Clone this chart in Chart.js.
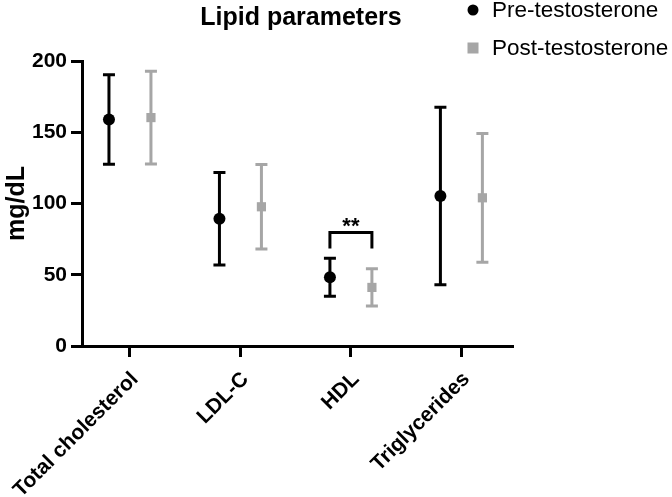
<!DOCTYPE html>
<html>
<head>
<meta charset="utf-8">
<title>Lipid parameters</title>
<script src="https://cdn.jsdelivr.net/npm/chart.js@4.4.0/dist/chart.umd.min.js"></script>
<style>
  html, body { margin: 0; padding: 0; background: #fff; }
  #chart-box { width: 672px; height: 497px; }
</style>
</head>
<body>
<div id="chart-box"><canvas id="my-chart"></canvas></div>
<script>
'use strict';

// *** Data ***

let categories = ['Total cholesterol', 'LDL-C', 'HDL', 'Triglycerides'];
let preMean = [159, 89.3, 48.2, 105.2];
let preSD = [31.4, 32.5, 13.3, 62.3];
let postMean = [160.3, 97.7, 41.1, 104.0];
let postSD = [32.5, 29.6, 13.1, 45.2];
let yTicks = [0, 50, 100, 150, 200];

// significance bracket over HDL
let sigCategory = 3;
let sigLabel = '**';
let sigTop = 79.7;
let sigLeg = 68.5;

// *** Styles ***

let fontFamily = '"Liberation Sans", Arial, sans-serif';
let preColor = '#000000';
let postColor = '#a6a6a6';
let shift = 0.19;

// *** Helpers ***

function makePoints(means, offset) {
  let points = [];
  for (let i = 0; i < means.length; i++) {
    points.push({ x: i + 1 + offset, y: means[i] });
  }
  return points;
}

// error bars drawn under the markers
let errorBarPlugin = {
  id: 'errorBars',
  beforeDatasetsDraw(chart) {
    let c = chart.ctx;
    let xs = chart.scales.x;
    let ys = chart.scales.y;
    chart.data.datasets.forEach(function (ds) {
      c.save();
      c.strokeStyle = ds.borderColor;
      c.lineWidth = 3;
      for (let i = 0; i < ds.data.length; i++) {
        let px = xs.getPixelForValue(ds.data[i].x);
        let top = ys.getPixelForValue(ds.data[i].y + ds.sd[i]);
        let bot = ys.getPixelForValue(ds.data[i].y - ds.sd[i]);
        c.beginPath();
        c.moveTo(px, top);
        c.lineTo(px, bot);
        c.moveTo(px - 6, top);
        c.lineTo(px + 6, top);
        c.moveTo(px - 6, bot);
        c.lineTo(px + 6, bot);
        c.stroke();
      }
      c.restore();
    });
  }
};

// title, legend and the ** bracket
let extrasPlugin = {
  id: 'extras',
  afterDraw(chart) {
    let c = chart.ctx;
    let xs = chart.scales.x;
    let ys = chart.scales.y;
    let area = chart.chartArea;
    c.save();

    // Title
    c.fillStyle = '#000';
    c.font = 'bold 25px ' + fontFamily;
    c.textAlign = 'center';
    c.textBaseline = 'alphabetic';
    c.fillText('Lipid parameters', (area.left + area.right) / 2 + 4, 25);

    // Legend
    c.font = '22.5px ' + fontFamily;
    c.textAlign = 'left';
    c.fillStyle = preColor;
    c.beginPath();
    c.arc(473, 10, 5.5, 0, Math.PI * 2);
    c.fill();
    c.fillText('Pre-testosterone', 492, 17);
    c.fillStyle = postColor;
    c.fillRect(467.5, 42.5, 11, 11);
    c.fillStyle = '#000';
    c.fillText('Post-testosterone', 492, 55);

    // Bracket
    let x1 = xs.getPixelForValue(sigCategory - shift);
    let x2 = xs.getPixelForValue(sigCategory + shift);
    let yTop = ys.getPixelForValue(sigTop);
    let yLeg = ys.getPixelForValue(sigLeg);
    c.strokeStyle = '#000';
    c.lineWidth = 3;
    c.beginPath();
    c.moveTo(x1, yLeg);
    c.lineTo(x1, yTop);
    c.lineTo(x2, yTop);
    c.lineTo(x2, yLeg);
    c.stroke();
    c.font = 'bold 22px ' + fontFamily;
    c.textAlign = 'center';
    c.fillText(sigLabel, (x1 + x2) / 2, yTop + 1);

    c.restore();
  }
};

// *** Chart ***

let ctx = document.getElementById('my-chart');

let chartObj = {
  type: 'scatter',
  data: {
    datasets: [
      {
        label: 'Pre-testosterone',
        data: makePoints(preMean, -shift),
        sd: preSD,
        pointStyle: 'circle',
        pointRadius: 6,
        backgroundColor: preColor,
        borderColor: preColor,
        borderWidth: 0
      },
      {
        label: 'Post-testosterone',
        data: makePoints(postMean, shift),
        sd: postSD,
        pointStyle: 'rect',
        pointRadius: 6.5,
        backgroundColor: postColor,
        borderColor: postColor,
        borderWidth: 0
      }
    ]
  },
  options: {
    responsive: true,
    maintainAspectRatio: false,
    animation: false,
    layout: {
      padding: { left: 0, top: 61, right: 160, bottom: 0 }
    },
    plugins: {
      legend: { display: false },
      title: { display: false },
      tooltip: { enabled: false }
    },
    scales: {
      x: {
        type: 'linear',
        min: 0.566,
        max: 4.458,
        afterBuildTicks(scale) {
          scale.ticks = categories.map(function (name, i) { return { value: i + 1 }; });
        },
        afterFit(scale) {
          // labels may run past the left edge, like the original
          scale.height = 151;
          scale.paddingLeft = 0;
          scale.paddingRight = 0;
        },
        border: { color: '#000', width: 3 },
        grid: { drawOnChartArea: false, color: '#000', lineWidth: 3, tickLength: 11 },
        ticks: {
          autoSkip: false,
          maxRotation: 45,
          minRotation: 45,
          padding: 10,
          labelOffset: 5,
          color: '#000',
          font: { family: fontFamily, size: 21, weight: 'bold' },
          callback(value) {
            return categories[value - 1];
          }
        }
      },
      y: {
        min: 0,
        max: 200,
        afterBuildTicks(scale) {
          scale.ticks = yTicks.map(function (v) { return { value: v }; });
        },
        afterFit(scale) {
          scale.width = 82;
          scale.paddingTop = 0;
          scale.paddingBottom = 0;
        },
        border: { color: '#000', width: 3 },
        grid: { drawOnChartArea: false, color: '#000', lineWidth: 3, tickLength: 11 },
        ticks: {
          padding: 4,
          color: '#000',
          font: { family: fontFamily, size: 21, weight: 'bold' }
        },
        title: {
          display: true,
          text: 'mg/dL',
          color: '#000',
          padding: { top: 2, bottom: 0 },
          font: { family: fontFamily, size: 25, weight: 'bold' }
        }
      }
    }
  },
  plugins: [errorBarPlugin, extrasPlugin]
};

new Chart(ctx, chartObj);
</script>
</body>
</html>
